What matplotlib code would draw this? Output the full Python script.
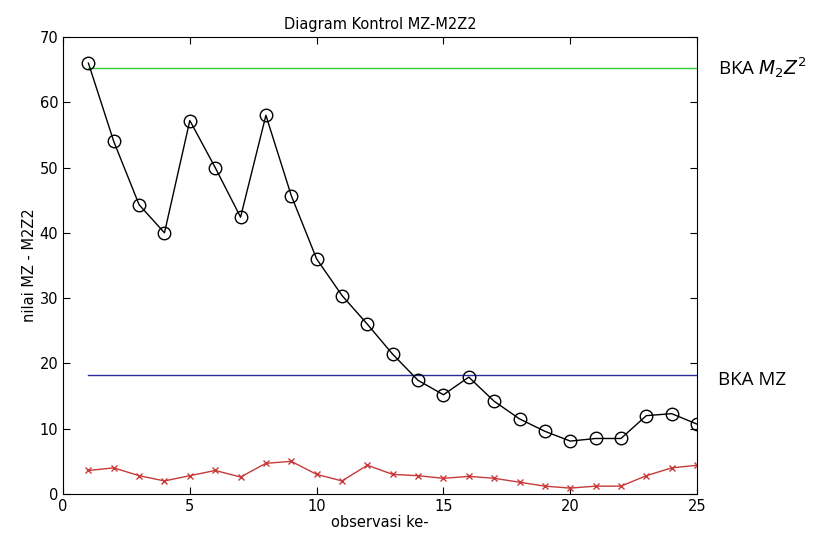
import matplotlib
matplotlib.use('Agg')
import matplotlib.pyplot as plt

# observation index
obs = list(range(1, 26))

# M2Z2 statistic (black circles)
m2z2 = [66.0, 54.0, 44.3, 40.0, 57.2, 50.0, 42.4, 58.0, 45.7, 36.0,
        30.4, 26.0, 21.4, 17.4, 15.2, 17.9, 14.2, 11.5, 9.6, 8.1,
        8.5, 8.5, 12.0, 12.3, 10.7]

# MZ statistic (red crosses)
mz = [3.6, 4.0, 2.8, 2.0, 2.8, 3.6, 2.6, 4.7, 5.0, 3.0,
      2.0, 4.4, 3.0, 2.8, 2.4, 2.7, 2.4, 1.8, 1.2, 0.9,
      1.2, 1.2, 2.8, 4.0, 4.4]

# upper control limits
bka_m2z2 = 65.2
bka_mz = 18.2

xticks = [0, 5, 10, 15, 20, 25]
yticks = [0, 10, 20, 30, 40, 50, 60, 70]

plt.rcParams['font.family'] = ['DejaVu Sans']

fig = plt.figure(figsize=(8.26, 5.42), dpi=100)
ax = fig.add_axes([0.0763, 0.0886, 0.7676, 0.8432])

ax.plot([obs[0], obs[-1]], [bka_m2z2, bka_m2z2], color='#33cc33', lw=1)
ax.plot([obs[0], obs[-1]], [bka_mz, bka_mz], color='#2a2a9c', lw=1)
ax.plot(obs, mz, color='#c83a3a', marker='x', markersize=5, lw=1)
ax.plot(obs, m2z2, color='black', marker='o', markersize=9,
        markerfacecolor='none', markeredgewidth=1, lw=1)

ax.set_xlim(0, 25)
ax.set_ylim(0, 70)
ax.set_xticks(xticks)
ax.set_yticks(yticks)
ax.tick_params(direction='in', labelsize=10.5, length=5, top=True, right=True)

ax.set_title('Diagram Kontrol MZ-M2Z2', fontsize=10.5, pad=6)
ax.set_xlabel('observasi ke-', fontsize=10.5, labelpad=1)
ax.set_ylabel('nilai MZ - M2Z2', fontsize=10.5, labelpad=2)

fig.text(0.869, 0.875, r'BKA $M_2Z^2$', fontsize=13.5, family='Open Sans',
         va='center', ha='left')
fig.text(0.869, 0.298, 'BKA MZ', fontsize=13.5, family='Open Sans',
         va='center', ha='left')

fig.savefig('out.png', dpi=100)
